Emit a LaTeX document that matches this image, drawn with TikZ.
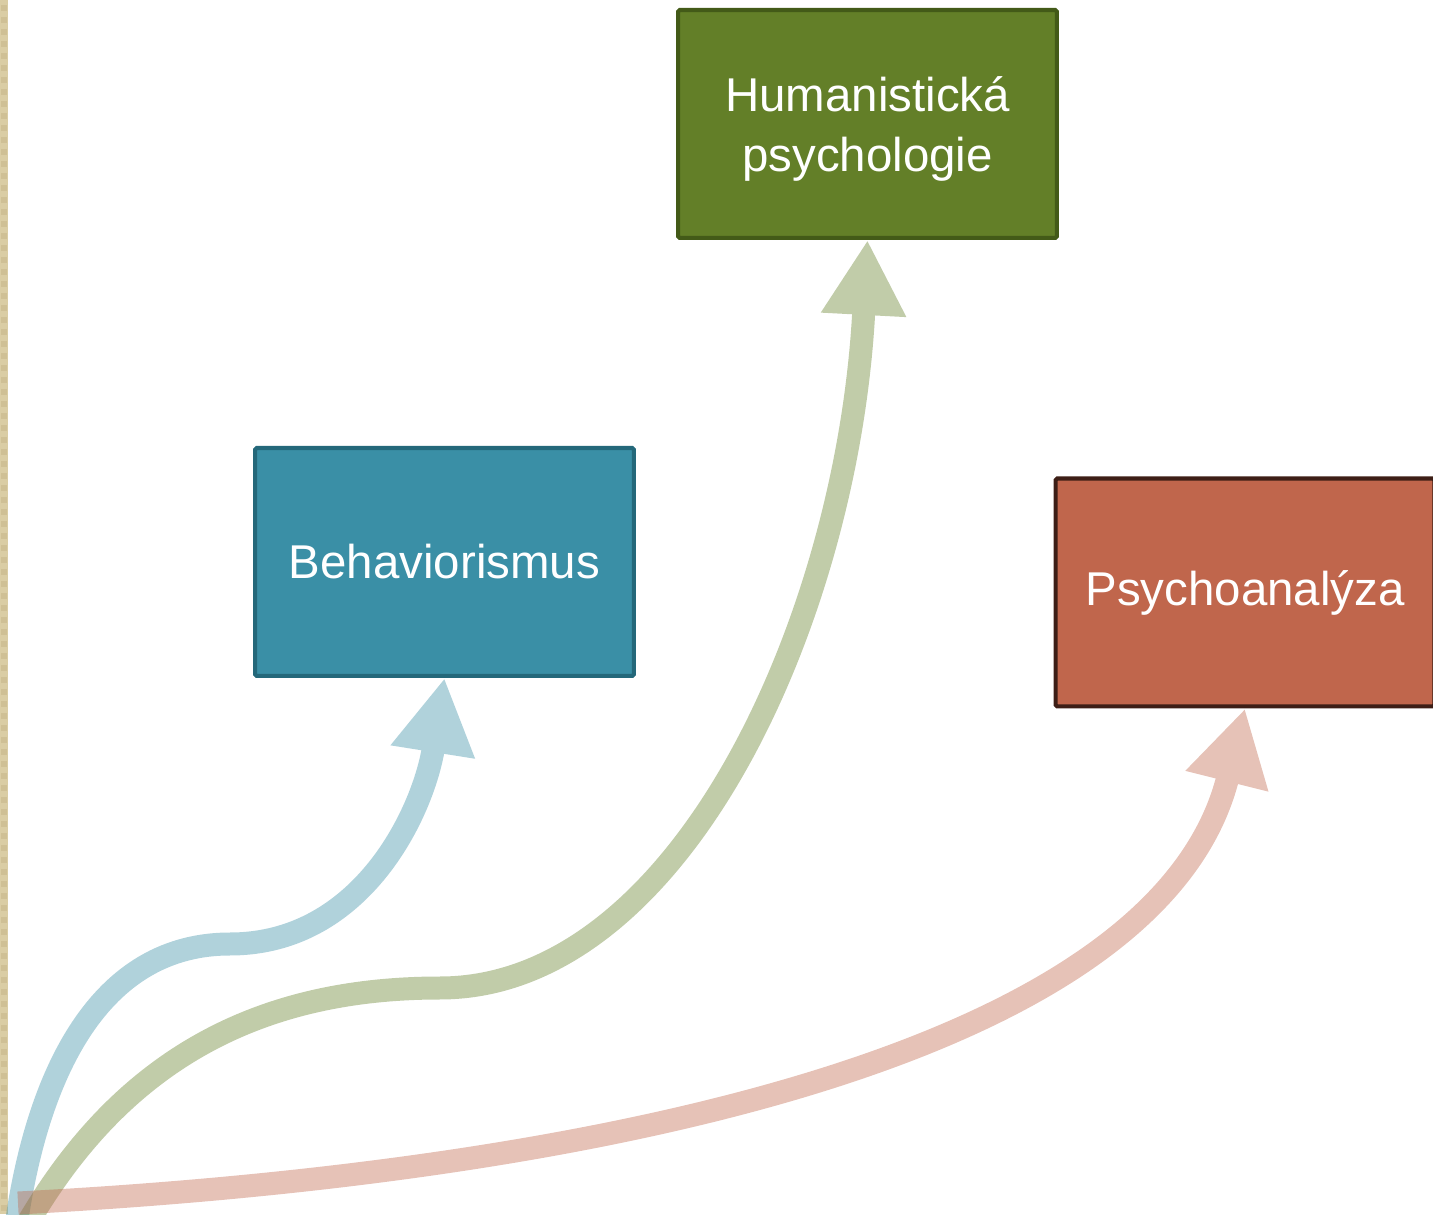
\documentclass[tikz,border=0pt]{standalone}
\usepackage{fontspec}
\setmainfont{Liberation Sans}
\usepackage{xcolor}
\usetikzlibrary{positioning, arrows.meta, calc}
\definecolor{behfill}{HTML}{3A8FA6}
\definecolor{behdraw}{HTML}{24687A}
\definecolor{humfill}{HTML}{637F28}
\definecolor{humdraw}{HTML}{435A18}
\definecolor{psyfill}{HTML}{C0664C}
\definecolor{psydraw}{HTML}{3D1E16}
\definecolor{stripfill}{HTML}{DACDA4}
\definecolor{stripdot}{HTML}{CFC095}
\tikzset{
  schoolbox/.style={
    rectangle,
    draw,
    line width=2.3pt,
    rounded corners=1pt,
    minimum width=7.58cm,
    minimum height=4.56cm,
    text width=7cm,
    align=center,
    text=white,
    font=\fontsize{27}{34.5}\selectfont,
    inner sep=0pt
  },
  bigarrow/.style={
    line width=0.46cm,
    -{Triangle[length=1.5cm, width=1.6cm]}
  }
}

\begin{document}
\begin{tikzpicture}[x=0.02cm, y=0.02cm]
  \useasboundingbox (0,0) rectangle (1433,1214);
  % left page strip
  \fill[stripfill] (0,0) rectangle (8,1214);
  \foreach \k in {0,...,100}
    \fill[stripdot] (1.5,{\k*12+3}) rectangle (6.5,{\k*12+9});

  \node[schoolbox, fill=behfill, draw=behdraw] (beh) at (444.5,652) {Behaviorismus};
  \node[schoolbox, fill=humfill, draw=humdraw] (hum) at (867.5,1090)
    {\raisebox{-3pt}[\height][\depth]{\begin{tabular}{@{}c@{}}Humanistická\\psychologie\end{tabular}}};
  \node[schoolbox, fill=psyfill, draw=psydraw] (psy) at (1245,621.5) {Psychoanalýza};

  \coordinate (behstart) at (16,-12);
  \coordinate (behmid) at (230,270);
  \coordinate (humstart) at (26,-12);
  \coordinate (hummid) at (440,226);
  \coordinate (psystart) at (18,11);

  \begin{scope}[transparency group, opacity=0.4]
    \draw[bigarrow, behfill] (behstart) to[out=82, in=180] (behmid)
      to[out=0, in=-99] (beh.south);
  \end{scope}
  \begin{scope}[transparency group, opacity=0.4]
    \draw[bigarrow, humfill] (humstart) to[out=60, in=180] (hummid)
      to[out=0, in=-93, out distance=4.8cm, in distance=7.6cm] (hum.south);
  \end{scope}
  \begin{scope}[transparency group, opacity=0.4]
    \draw[bigarrow, psyfill] (psystart)
      to[out=3, in=-104, out distance=12cm, in distance=7cm] (psy.south);
  \end{scope}
\end{tikzpicture}
\end{document}
